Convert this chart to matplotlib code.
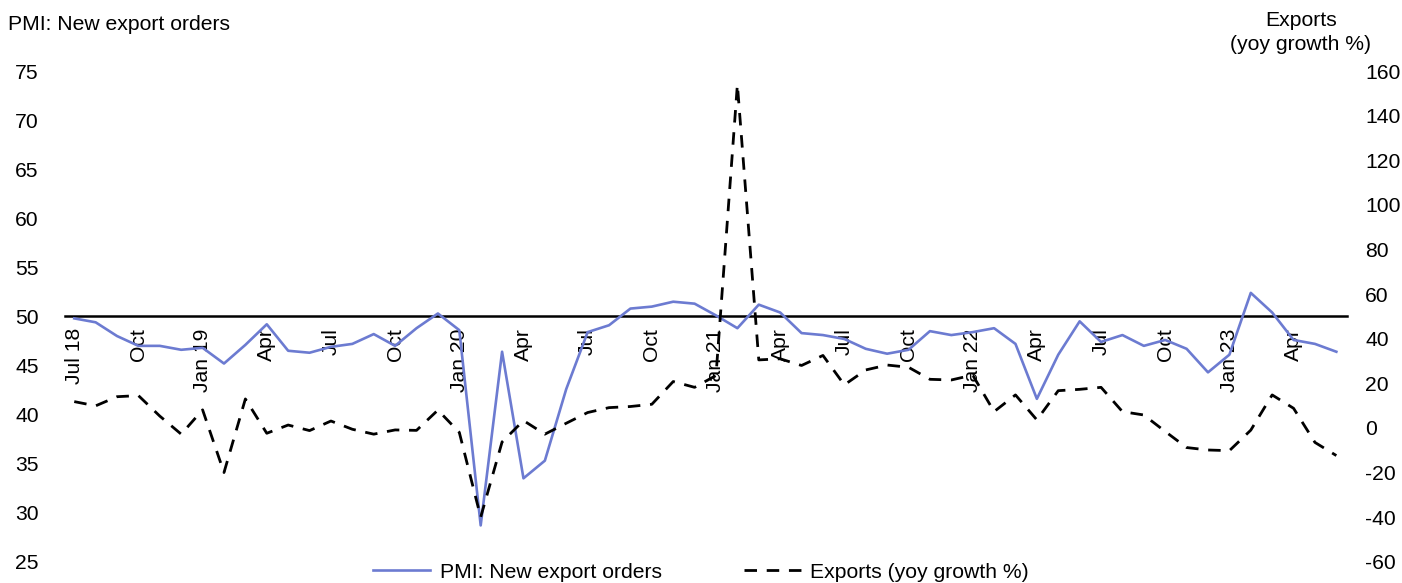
import matplotlib
matplotlib.use("Agg")
import matplotlib.pyplot as plt

plt.rcParams["font.family"] = ["Liberation Sans", "DejaVu Sans"]
plt.rcParams["axes.unicode_minus"] = False

# Monthly series, Jul 2018 – Jun 2023
tick_labels = ["Jul 18", "Oct", "Jan 19", "Apr", "Jul", "Oct", "Jan 20", "Apr",
               "Jul", "Oct", "Jan 21", "Apr", "Jul", "Oct", "Jan 22", "Apr",
               "Jul", "Oct", "Jan 23", "Apr"]

pmi_new_export_orders = [
    49.8, 49.4, 48.0, 47.0, 47.0, 46.6,                          # 2018 H2
    46.8, 45.2, 47.1, 49.2, 46.5, 46.3, 46.9, 47.2, 48.2, 47.0, 48.8, 50.3,  # 2019
    48.6, 28.7, 46.4, 33.5, 35.3, 42.6, 48.4, 49.1, 50.8, 51.0, 51.5, 51.3,  # 2020
    50.1, 48.8, 51.2, 50.4, 48.3, 48.1, 47.7, 46.7, 46.2, 46.6, 48.5, 48.1,  # 2021
    48.4, 48.8, 47.2, 41.6, 46.1, 49.5, 47.4, 48.1, 47.0, 47.6, 46.7, 44.3,  # 2022
    46.1, 52.4, 50.4, 47.6, 47.2, 46.4,                          # 2023 H1
]

exports_yoy = [
    11.8, 9.9, 14.0, 14.5, 5.3, -2.8,
    8.1, -20.0, 13.0, -2.4, 1.3, -1.2, 3.1, -0.6, -2.8, -0.9, -1.1, 8.0,
    -2.0, -40.0, -6.3, 3.3, -2.8, 2.1, 6.9, 9.1, 9.6, 10.6, 20.8, 18.2,
    23.5, 154.0, 30.5, 31.0, 28.0, 32.5, 19.3, 26.0, 28.2, 27.2, 21.8, 21.5,
    23.7, 7.3, 14.8, 3.6, 16.7, 17.3, 18.2, 7.3, 5.8, -1.6, -8.8, -9.9,
    -10.2, -1.0, 14.8, 8.8, -6.5, -12.4,
]

months = list(range(len(pmi_new_export_orders)))
tick_pos = list(range(0, len(months), 3))

FS = 15.2
BLUE = "#6C7BD1"

fig = plt.figure(figsize=(14.02, 5.83), dpi=100)
ax = fig.add_axes([0.0464, 0.0365, 0.9144, 0.8415])
ax2 = ax.twinx()

l1, = ax.plot(months, pmi_new_export_orders, color=BLUE, lw=1.9,
              label="PMI: New export orders", zorder=3)
l2, = ax2.plot(months, exports_yoy, color="black", lw=2.0,
               dashes=(4.5, 3.5), label="Exports (yoy growth %)")

ax.set_xlim(-0.43, 59.5)
ax.set_ylim(25, 75)
ax2.set_ylim(-60, 160)

ax.set_yticks(range(25, 80, 5))
ax2.set_yticks(range(-60, 180, 20))

# x axis crosses at PMI = 50
for s in ["top", "left", "right"]:
    ax.spines[s].set_visible(False)
    ax2.spines[s].set_visible(False)
ax2.spines["bottom"].set_visible(False)
ax.spines["bottom"].set_position(("data", 50))
ax.spines["bottom"].set_linewidth(1.8)
ax.spines["bottom"].set_color("black")

ax.set_xticks(tick_pos)
ax.set_xticklabels(tick_labels, rotation=90, fontsize=FS)
ax.tick_params(axis="x", length=0, pad=8.5)
ax.tick_params(axis="y", length=0, pad=19, labelsize=FS)
ax2.tick_params(axis="y", length=0, pad=13, labelsize=FS)

fig.text(8 / 1402, 1 - 24 / 583, "PMI: New export orders", fontsize=FS,
         ha="left", va="center")
fig.text(1301 / 1402, 1 - 11 / 583, "Exports\n(yoy growth %)", fontsize=FS,
         ha="center", va="top", multialignment="center", linespacing=1.35)

fig.legend(handles=[l1, l2], loc="center", bbox_to_anchor=(0.5, 1 - 572 / 583),
           ncol=2, frameon=False, fontsize=FS, handlelength=2.7,
           handletextpad=0.45, columnspacing=3.9, borderaxespad=0)

fig.savefig("out.png", dpi=100)
